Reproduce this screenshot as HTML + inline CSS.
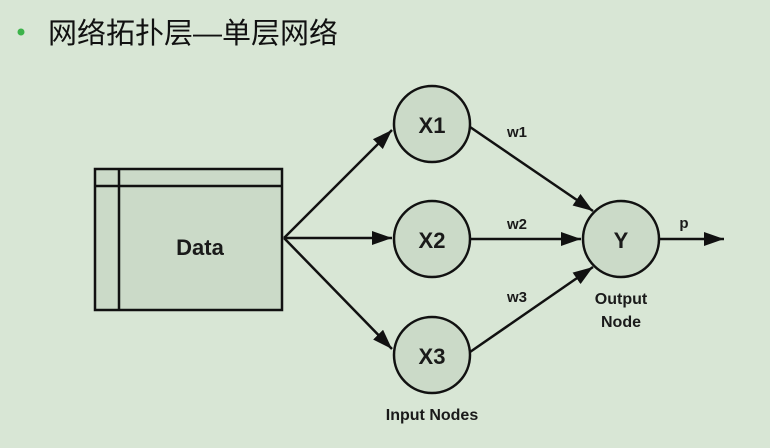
<html><head><style>body{margin:0;background:#d8e6d5;width:770px;height:448px;overflow:hidden}</style></head><body>
<svg width="770" height="448" xmlns="http://www.w3.org/2000/svg" style="position:absolute;left:0;top:0">
<rect width="770" height="448" fill="#d8e6d5"/>
<circle cx="21" cy="32" r="3.5" fill="#3cb34a"/>
<text x="48" y="43" font-family="Liberation Sans, Noto Sans CJK SC, sans-serif" font-size="29" fill="#111">网络拓扑层—单层网络</text>
<defs>
<marker id="b" viewBox="0 0 20 14" markerWidth="20" markerHeight="14" refX="20" refY="7" orient="auto" markerUnits="userSpaceOnUse"><path d="M0,0 L20,7 L0,14z" fill="#111"/></marker></defs>
<g stroke="#111" stroke-width="2.5" fill="#cbdac8">
<rect x="95" y="169" width="187" height="141"/>
<line x1="119" y1="169" x2="119" y2="310"/>
<line x1="95" y1="186" x2="282" y2="186"/>
<circle cx="432" cy="124" r="38"/>
<circle cx="432" cy="239" r="38"/>
<circle cx="432" cy="355" r="38"/>
<circle cx="621" cy="239" r="38"/>
</g>
<g stroke="#111" stroke-width="2.5" marker-end="url(#b)">
<line x1="284" y1="238" x2="392" y2="130"/>
<line x1="284" y1="238" x2="392" y2="238"/>
<line x1="284" y1="238" x2="392" y2="349"/>
<line x1="470" y1="127" x2="593" y2="211"/>
<line x1="470" y1="239" x2="581" y2="239"/>
<line x1="470" y1="352" x2="593" y2="267"/>
<line x1="659" y1="239" x2="724" y2="239"/>
</g>
<g font-family="Liberation Sans, sans-serif" font-weight="bold" fill="#1a1a1a" text-anchor="middle">
<text x="200" y="255" font-size="22">Data</text>
<text x="432" y="133" font-size="22">X1</text>
<text x="432" y="248" font-size="22">X2</text>
<text x="432" y="364" font-size="22">X3</text>
<text x="621" y="248" font-size="22">Y</text>
<text x="517" y="137" font-size="15">w1</text>
<text x="517" y="229" font-size="15">w2</text>
<text x="517" y="302" font-size="15">w3</text>
<text x="684" y="228" font-size="15">p</text>
<text x="621" y="304" font-size="16">Output</text>
<text x="621" y="327" font-size="16">Node</text>
<text x="432" y="420" font-size="16">Input Nodes</text>
</g>
</svg></body></html>
